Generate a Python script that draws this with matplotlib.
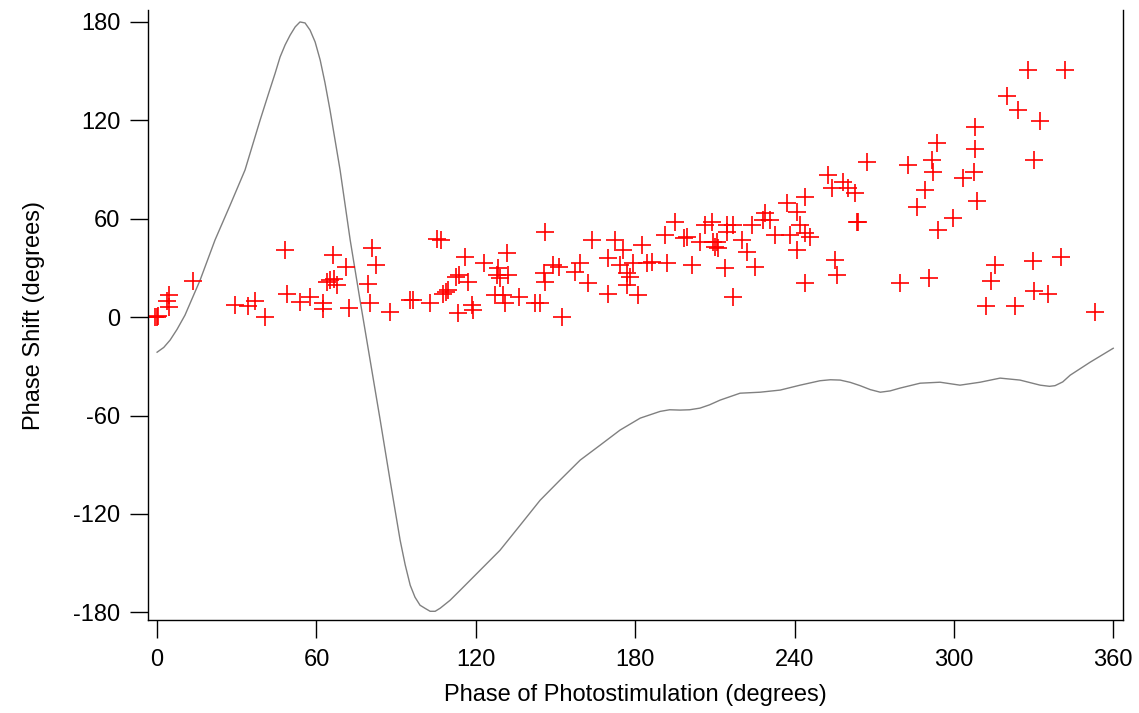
import matplotlib.pyplot as plt

plt.rcParams['font.family'] = ['Liberation Sans', 'DejaVu Sans']
plt.rcParams['axes.unicode_minus'] = False

# stimulation phase (deg) vs. phase shift (deg)
stim_phase = [
    0.0, 0.5, -0.7, 3.6, 4.6, 4.3, 13.4,
    29.4, 34.1, 36.9, 40.7, 48.2, 48.8, 53.8, 57.6, 62.4, 62.4, 63.9, 65.1, 66.1,
    66.6, 67.6, 71.2, 72.4, 79.3, 80.2, 80.8, 82.5, 87.7, 95.3, 96.5, 102.8,
    105.3, 107.0, 107.8, 108.8, 109.7, 112.6, 113.4, 113.5, 116.0, 117.2, 118.5,
    119.0, 122.9, 127.3, 127.9, 128.5, 129.0, 130.4, 131.0, 131.6, 132.3, 136.1,
    142.3, 144.2, 145.5, 146.1, 146.1, 149.2, 151.5, 152.3, 157.4, 159.3, 162.4,
    163.6, 169.9, 169.9, 172.4, 174.3, 175.6, 176.8, 176.8, 178.1, 179.3, 181.2,
    182.4, 184.3, 186.2, 191.3, 191.9, 195.0, 198.2, 199.6, 201.3, 204.4, 206.3,
    208.8, 209.4, 210.0, 210.7, 211.3, 213.9, 214.4, 214.4, 217.0, 217.0, 220.1,
    222.0, 223.9, 225.2, 228.3, 228.9, 230.8, 232.7, 237.0, 238.3, 240.8, 240.8,
    242.1, 244.0, 244.0, 244.0, 245.9, 252.7, 254.0, 255.3, 255.9, 258.4, 260.2,
    262.8, 263.4, 264.0, 267.2, 279.7, 282.9, 286.0, 289.2, 290.8, 291.6, 292.3,
    293.6, 294.2, 299.8, 303.3, 307.4, 308.0, 308.0, 308.6, 312.1, 313.9, 315.5,
    319.9, 323.2, 324.3, 328.0, 329.7, 330.2, 330.3, 332.5, 335.6, 340.4, 341.9,
    353.2,
]
phase_shift = [
    0.0, 0.6, 0.2, 10.0, 13.4, 6.3, 22.0,
    7.3, 6.7, 9.8, 0.0, 40.9, 14.4, 9.4, 12.4, 8.7, 4.7, 21.5, 22.6, 37.8,
    23.2, 19.5, 30.7, 5.7, 19.9, 8.4, 41.9, 31.7, 3.3, 10.4, 10.4, 8.4,
    47.6, 47.0, 14.4, 15.5, 16.5, 24.6, 2.3, 25.6, 36.8, 21.5, 7.3,
    4.3, 32.8, 13.4, 25.6, 29.7, 23.8, 13.4, 8.4, 38.9, 25.6, 12.4,
    8.4, 8.4, 26.6, 51.7, 21.5, 31.7, 30.7, 0.2, 27.6, 32.8, 20.6,
    47.0, 35.8, 14.4, 47.0, 31.7, 40.9, 26.6, 19.5, 24.6, 32.8, 13.4,
    43.9, 32.8, 33.8, 50.0, 32.8, 58.1, 48.0, 48.8, 31.7, 46.0, 56.1,
    58.1, 46.0, 42.9, 46.0, 42.0, 29.7, 51.9, 56.1, 56.1, 12.4, 47.0,
    39.9, 56.1, 30.7, 59.2, 63.3, 59.2, 50.0, 69.4, 50.0, 64.3, 40.9,
    56.1, 51.1, 73.4, 20.6, 49.0, 86.6, 78.5, 34.8, 25.6, 82.6, 78.5,
    75.5, 58.1, 58.1, 94.8, 20.9, 92.7, 67.3, 77.5, 23.6, 95.8, 88.7,
    106.0, 53.1, 60.2, 85.1, 88.7, 115.7, 102.3, 70.8, 6.7, 22.1, 31.7,
    134.8, 6.7, 126.3, 150.7, 34.4, 95.8, 16.0, 119.6, 14.4, 36.4, 150.7,
    2.9,
]

# fitted response curve (gray line)
curve_x = [
    0.0, 2.5, 4.9, 7.5, 10.5, 16.2, 21.8, 27.5, 33.1, 38.8, 42.0, 44.4, 46.3,
    48.2, 50.1, 52.0, 53.8, 55.7, 57.6, 59.5, 61.4, 63.2, 65.1, 68.9, 72.7,
    76.4, 80.2, 84.0, 87.7, 91.5, 93.4, 95.3, 97.1, 99.0, 100.9, 102.8, 104.7,
    106.6, 110.3, 114.1, 121.6, 129.1, 136.7, 144.2, 151.7, 159.3, 166.8,
    174.3, 181.9, 189.4, 193.0, 196.9, 200.5, 204.4, 208.0, 212.0, 219.5,
    227.0, 234.6, 242.1, 249.6, 253.5, 257.2, 261.0, 264.7, 268.5, 272.3,
    276.0, 279.7, 287.3, 294.8, 302.3, 309.9, 317.4, 324.9, 332.5, 336.0,
    338.1, 341.0, 343.8, 351.3, 360.0,
]
curve_y = [
    -21.4, -18.5, -14.0, -7.5, 1.2, 22.6, 47.0, 68.3, 89.7, 120.2, 136.5, 148.5,
    158.6, 166.0, 172.0, 177.0, 180.0, 179.4, 175.0, 167.8, 156.8, 143.0,
    126.3, 89.7, 47.0, 10.4, -26.2, -62.8, -99.4, -136.0, -151.0, -163.5,
    -170.8, -175.7, -177.6, -179.4, -179.4, -177.5, -172.7, -166.6, -154.4,
    -142.2, -126.9, -111.7, -99.4, -87.2, -78.1, -68.9, -61.6, -57.5, -56.5,
    -56.7, -56.5, -55.5, -53.5, -50.6, -46.4, -45.8, -44.5, -41.5, -38.8,
    -38.2, -38.4, -39.8, -41.8, -44.2, -45.8, -45.0, -43.3, -40.3, -39.7,
    -41.5, -39.7, -37.2, -38.4, -41.5, -42.2, -41.8, -39.5, -35.4, -27.5,
    -19.0,
]

xticks = [0, 60, 120, 180, 240, 300, 360]
yticks = [-180, -120, -60, 0, 60, 120, 180]

fig = plt.figure(figsize=(11.39, 7.13), dpi=100)
ax = fig.add_axes([0.130, 0.130, 0.856, 0.856])

ax.plot(curve_x, curve_y, color='#808080', linewidth=1.0)
ax.plot(stim_phase, phase_shift, linestyle='none', marker='+',
        markersize=13, markeredgewidth=1.2, color='#ff0000')

ax.set_xlim(-3.4, 363.7)
ax.set_ylim(-184.9, 187.3)
ax.set_xticks(xticks)
ax.set_yticks(yticks)
ax.tick_params(direction='out', length=13, width=1.0, labelsize=17)
ax.tick_params(axis='x', pad=8)
ax.tick_params(axis='y', pad=7)

ax.spines['top'].set_visible(False)
for side in ['left', 'bottom', 'right']:
    ax.spines[side].set_linewidth(1.0)

ax.set_xlabel('Phase of Photostimulation (degrees)', fontsize=17, labelpad=9)
ax.set_ylabel('Phase Shift (degrees)', fontsize=17, labelpad=20)

fig.savefig('out.png', dpi=100)
